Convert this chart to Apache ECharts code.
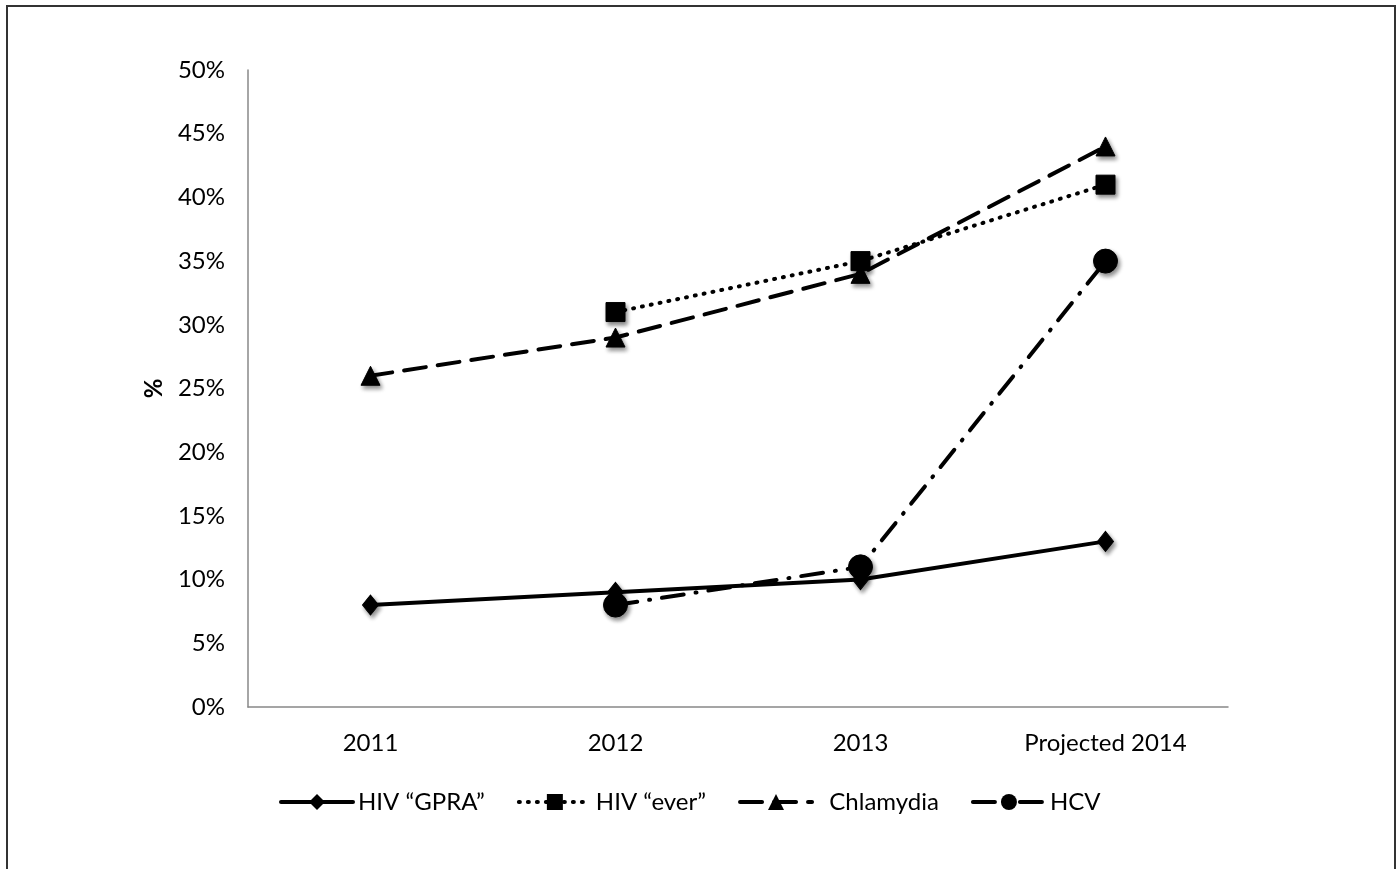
<!DOCTYPE html>
<html><head><meta charset="utf-8">
<script src="https://cdn.jsdelivr.net/npm/echarts@6/dist/echarts.min.js"></script>
<style>
html,body{margin:0;padding:0;background:#fff;}
#frame{position:absolute;left:6px;top:5px;width:1390px;height:900px;border:2px solid #333;box-sizing:border-box;}
#chart{position:absolute;left:0;top:0;width:1400px;height:869px;}
</style></head>
<body>
<div id="frame"></div>
<div id="chart"></div>
<script>
const categories = ['2011', '2012', '2013', 'Projected 2014'];
const hivGpra = [8, 9, 10, 13];
const hivEver = [null, 31, 35, 41];
const chlamydia = [26, 29, 34, 44];
const hcv = [null, 8, 11, 35];
const seriesNames = ['HIV \u201cGPRA\u201d', 'HIV \u201cever\u201d', 'Chlamydia', 'HCV'];

const FONT = 'Lato, "Open Sans", sans-serif';
const FS = 24;
const shadow = {shadowBlur: 4, shadowColor: 'rgba(0,0,0,0.45)', shadowOffsetX: 2, shadowOffsetY: 3};
function mk(name, data, symbol, size, type) {
  return {
    name, type: 'line', data, symbol, symbolSize: size, connectNulls: false,
    lineStyle: {color: '#000', width: 4, type, cap: 'round'},
    itemStyle: Object.assign({color: '#000', borderColor: '#000'}, shadow),
    emphasis: {disabled: true}, animation: false
  };
}
const chart = echarts.init(document.getElementById('chart'));
chart.setOption({
  backgroundColor: 'transparent',
  animation: false,
  grid: {left: 248, right: 172, top: 70, bottom: 162},
  legend: {
    left: 274, top: 785, itemWidth: 72, itemHeight: 20, itemGap: 32,
    lineStyle: {width: 4},
    formatter: n => n === 'Chlamydia' ? '  ' + n : n,
    textStyle: {fontFamily: FONT, fontSize: FS, color: '#000'},
    data: seriesNames
  },
  xAxis: {
    type: 'category', data: categories, boundaryGap: true,
    axisLine: {lineStyle: {color: '#888', width: 1.5}},
    axisTick: {show: false},
    axisLabel: {fontFamily: FONT, fontSize: FS, color: '#000', margin: 24}
  },
  yAxis: {
    type: 'value', min: 0, max: 50, interval: 5,
    name: '%', nameLocation: 'middle', nameRotate: 90, nameGap: 82,
    nameTextStyle: {fontFamily: FONT, fontSize: FS, color: '#000', fontWeight: 'bold'},
    axisLine: {show: true, lineStyle: {color: '#888', width: 1.5}},
    axisTick: {show: false},
    splitLine: {show: false},
    axisLabel: {fontFamily: FONT, fontSize: FS, color: '#000', margin: 23, formatter: v => v + '%'}
  },
  series: [
    mk(seriesNames[0], hivGpra, 'diamond', [16, 20], 'solid'),
    mk(seriesNames[1], hivEver, 'rect', 19, [1, 8]),
    mk(seriesNames[2], chlamydia, 'triangle', 19, [22, 12]),
    mk(seriesNames[3], hcv, 'circle', 24, [22, 12, 1, 12])
  ]
});
</script>
</body></html>
